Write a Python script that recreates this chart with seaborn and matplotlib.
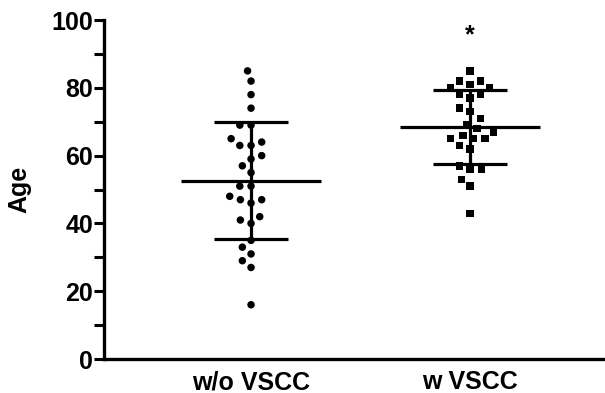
import numpy as np
import pandas as pd
import seaborn as sns
import matplotlib.pyplot as plt
from matplotlib.ticker import MultipleLocator

# data (age per patient)
groups = ["w/o VSCC", "w VSCC"]
age_without = [85, 82, 78, 74, 69, 69, 65, 63, 63, 64, 59, 60, 57, 55, 51, 51,
               48, 47, 46, 47, 42, 41, 40, 35, 33, 31, 29, 27, 16]
age_with = [85, 82, 82, 81, 80, 80, 78, 78, 77, 73, 74, 71, 68, 69, 67, 66,
            65, 65, 65, 63, 62, 57, 56, 56, 53, 51, 43]
markers = ["o", "s"]
star_label = "*"

df = pd.DataFrame({
    "group": [groups[0]] * len(age_without) + [groups[1]] * len(age_with),
    "age": age_without + age_with,
})

sns.set_style("ticks", {"axes.edgecolor": "black", "text.color": "black",
                        "axes.labelcolor": "black", "xtick.color": "black",
                        "ytick.color": "black"})
plt.rcParams["font.family"] = ["Liberation Sans", "DejaVu Sans"]
plt.rcParams["font.weight"] = "bold"

fig = plt.figure(figsize=(6.05, 3.93), dpi=100)
ax = fig.add_axes([0.172, 0.0865, 0.828, 0.8625])

for g, m in zip(groups, markers):
    sns.swarmplot(data=df[df.group == g], x="group", y="age", order=groups,
                  marker=m, color="black", size=5.4, linewidth=2.3,
                  edgecolor="none", ax=ax)

# mean and SD lines
for i, g in enumerate(groups):
    vals = df.loc[df.group == g, "age"]
    mu, sd = vals.mean(), vals.std()
    ax.hlines(mu, i - 0.32, i + 0.32, color="black", lw=2.3, zorder=3)
    ax.hlines([mu - sd, mu + sd], i - 0.17, i + 0.17, color="black", lw=2.3, zorder=3)
    ax.vlines(i, mu - sd, mu + sd, color="black", lw=2.3, zorder=3)

ax.text(1, 95.5, star_label, ha="center", va="center", fontsize=18, fontweight="bold")

ax.set_xlim(-0.671, 1.616)
ax.set_ylim(0, 100)
ax.yaxis.set_major_locator(MultipleLocator(20))
ax.yaxis.set_minor_locator(MultipleLocator(10))
ax.tick_params(axis="y", which="both", length=7, width=2.2, labelsize=18, pad=1)
ax.tick_params(axis="x", length=0, labelsize=18, pad=8)
for lab in ax.get_xticklabels() + ax.get_yticklabels():
    lab.set_fontweight("bold")
ax.set_xlabel("")
ax.set_ylabel("Age", fontsize=18, fontweight="bold", labelpad=14)
sns.despine(ax=ax)
for s in ["left", "bottom"]:
    ax.spines[s].set_linewidth(2.4)
ax.spines["left"].set_zorder(5)

fig.savefig("out.png", dpi=100)
